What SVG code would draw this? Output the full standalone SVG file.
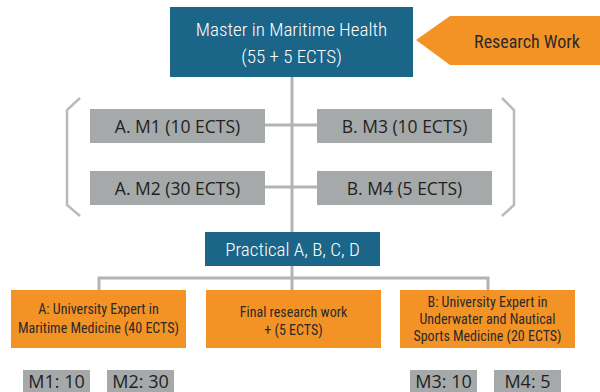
<svg xmlns="http://www.w3.org/2000/svg" width="600" height="392" viewBox="0 0 600 392">
<style>
.blue{fill:#1b6588}
.orange{fill:#f39325}
.gray{fill:#a6a9aa}
.ln{stroke:#b1b4b5;stroke-width:3;fill:none}
.br{stroke:#b8bbbc;stroke-width:2.5;fill:none}
.tw{fill:#ffffff;font-family:"Liberation Sans Narrow","Roboto Condensed",Roboto,sans-serif;font-weight:300;text-anchor:middle}
.td{fill:#2a2a2a;font-family:"Liberation Sans Narrow","Roboto Condensed",Roboto,sans-serif;text-anchor:middle}
.tg{fill:#231f20;font-family:"Open Sans","Liberation Sans",sans-serif;text-anchor:middle}
</style>
<rect width="600" height="392" fill="#ffffff"/>
<g id="connectors">
<line class="ln" x1="292" y1="76" x2="292" y2="233"/>
<line class="ln" x1="265" y1="125" x2="317" y2="125"/>
<line class="ln" x1="265" y1="187" x2="317" y2="187"/>
<line class="ln" x1="292" y1="265" x2="292" y2="290"/>
<polyline class="ln" points="99,290 99,278 488,278 488,290"/>
<polyline class="br" points="80,98 67,110 67,205 80,216"/>
<polyline class="br" points="502,98 514,110 514,205 502,216"/>
</g>
<g id="master">
<rect class="blue" x="170" y="7" width="243" height="70"/>
<text class="tw" x="291.5" y="36" font-size="19">Master in Maritime Health</text>
<text class="tw" x="291.5" y="63" font-size="19">(55 + 5 ECTS)</text>
</g>
<g id="research">
<polygon class="orange" points="416,40 450,16 600,16 600,65 450,65"/>
<text class="td" x="527" y="48" font-size="18">Research Work</text>
</g>
<g id="m1">
<rect class="gray" x="90" y="109" width="175" height="34"/>
<text class="tg" x="177.5" y="133" font-size="17.5">A. M1 (10 ECTS)</text>
</g>
<g id="m2">
<rect class="gray" x="90" y="171" width="175" height="34"/>
<text class="tg" x="177.5" y="195" font-size="17.5">A. M2 (30 ECTS)</text>
</g>
<g id="m3">
<rect class="gray" x="317" y="109" width="175" height="34"/>
<text class="tg" x="404.5" y="133" font-size="17.5">B. M3 (10 ECTS)</text>
</g>
<g id="m4">
<rect class="gray" x="317" y="171" width="175" height="34"/>
<text class="tg" x="404.5" y="195" font-size="17.5">B. M4 (5 ECTS)</text>
</g>
<g id="practical">
<rect class="blue" x="205" y="232" width="175" height="34"/>
<text class="tw" x="292.5" y="256" font-size="19">Practical A, B, C, D</text>
</g>
<g id="expertA">
<rect class="orange" x="11" y="290" width="175" height="58"/>
<text class="td" x="98.5" y="314" font-size="14">A: University Expert in</text>
<text class="td" x="98.5" y="333" font-size="14">Maritime Medicine (40 ECTS)</text>
</g>
<g id="final">
<rect class="orange" x="206" y="290" width="175" height="58"/>
<text class="td" x="293.5" y="317" font-size="14">Final research work</text>
<text class="td" x="293.5" y="335" font-size="14">+ (5 ECTS)</text>
</g>
<g id="expertB">
<rect class="orange" x="400" y="290" width="175" height="58"/>
<text class="td" x="487.5" y="307" font-size="14">B: University Expert in</text>
<text class="td" x="487.5" y="324" font-size="14">Underwater and Nautical</text>
<text class="td" x="487.5" y="341" font-size="14">Sports Medicine (20 ECTS)</text>
</g>
<g id="b1">
<rect class="gray" x="23" y="370" width="67" height="26"/>
<text class="tg" x="56.5" y="388" font-size="18">M1: 10</text>
</g>
<g id="b2">
<rect class="gray" x="107" y="370" width="67" height="26"/>
<text class="tg" x="140.5" y="388" font-size="18">M2: 30</text>
</g>
<g id="b3">
<rect class="gray" x="410" y="370" width="67" height="26"/>
<text class="tg" x="443.5" y="388" font-size="18">M3: 10</text>
</g>
<g id="b4">
<rect class="gray" x="494" y="370" width="67" height="26"/>
<text class="tg" x="527.5" y="388" font-size="18">M4: 5</text>
</g>
</svg>
